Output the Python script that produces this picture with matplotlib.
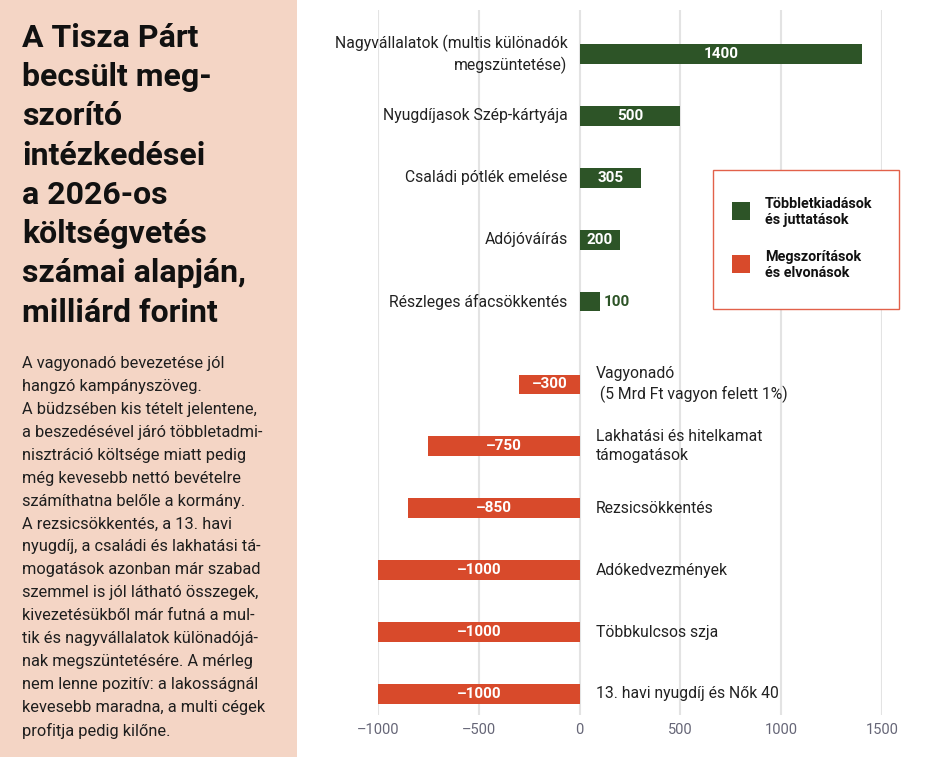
import numpy as np
import matplotlib.pyplot as plt
from matplotlib.patches import Rectangle

plt.rcParams['font.family'] = ['Roboto', 'DejaVu Sans']

# data
pos_labels = ['Nagyvállalatok (multis különadók\nmegszüntetése)',
              'Nyugdíjasok Szép-kártyája',
              'Családi pótlék emelése',
              'Adójóváírás',
              'Részleges áfacsökkentés']
pos_values = [1400, 500, 305, 200, 100]

neg_labels = ['Vagyonadó\n (5 Mrd Ft vagyon felett 1%)',
              'Lakhatási és hitelkamat\ntámogatások',
              'Rezsicsökkentés',
              'Adókedvezmények',
              'Többkulcsos szja',
              '13. havi nyugdíj és Nők 40']
neg_values = [-300, -750, -850, -1000, -1000, -1000]

xticks = [-1000, -500, 0, 500, 1000, 1500]

title = ('A Tisza Párt\nbecsült meg-\nszorító\nintézkedései\na 2026-os\n'
         'költségvetés\nszámai alapján,\nmilliárd forint')
body = ('A vagyonadó bevezetése jól\nhangzó kampányszöveg.\n'
        'A büdzsében kis tételt jelentene,\na beszedésével járó többletadmi-\n'
        'nisztráció költsége miatt pedig\nmég kevesebb nettó bevételre\n'
        'számíthatna belőle a kormány.\nA rezsicsökkentés, a 13. havi\n'
        'nyugdíj, a családi és lakhatási tá-\nmogatások azonban már szabad\n'
        'szemmel is jól látható összegek,\nkivezetésükből már futná a mul-\n'
        'tik és nagyvállalatok különadójá-\nnak megszüntetésére. A mérleg\n'
        'nem lenne pozitív: a lakosságnál\nkevesebb maradna, a multi cégek\n'
        'profitja pedig kilőne.')

green = '#2d5427'
red = '#d84a2b'
panel = '#f4d5c5'

def fmt(v):
    return str(v).replace('-', '\u2013')

fig = plt.figure(figsize=(9.46, 7.57), dpi=100)
fig.patches.append(Rectangle((0, 0), 297 / 946, 1, transform=fig.transFigure,
                             facecolor=panel, edgecolor='none', zorder=0))

fig.text(22 / 946, 1 - 23 / 757, title, fontsize=23, fontweight='bold',
         va='top', ha='left', linespacing=1.385, color='#111111')
fig.text(22 / 946, 1 - 356 / 757, body, fontsize=11.8, va='top', ha='left',
         linespacing=1.66, color='#1e1e1e')

ax = fig.add_axes([378 / 946, 1 - 715 / 757, 504 / 946, 705 / 757])

y_pos = np.arange(len(pos_values))
y_neg = len(pos_values) - 1 + 1.34 + np.arange(len(neg_values))

ax.barh(y_pos, pos_values, height=0.32, color=green, zorder=2)
ax.barh(y_neg, neg_values, height=0.32, color=red, zorder=2)

for y, v, lab in zip(y_pos, pos_values, pos_labels):
    ax.text(-12 / 0.2016, y, lab, ha='right', va='center', fontsize=11.3,
            color='#222222', multialignment='right', linespacing=1.35)
    if v >= 150:
        ax.text(v / 2, y, fmt(v), ha='center', va='center', fontsize=11,
                fontweight='bold', color='white', zorder=3)
    else:
        ax.text(v + 20, y, fmt(v), ha='left', va='center', fontsize=11,
                fontweight='bold', color=green, zorder=3)

for y, v, lab in zip(y_neg, neg_values, neg_labels):
    ax.text(16 / 0.2016, y, lab, ha='left', va='center', fontsize=11.3,
            color='#222222', multialignment='left', linespacing=1.35)
    ax.text(v / 2, y, fmt(v), ha='center', va='center', fontsize=11,
            fontweight='bold', color='white', zorder=3)

ax.set_xlim(-1000, 1500)
ax.set_ylim(len(pos_values) - 1 + 1.34 + len(neg_values) - 1 + 0.34, -0.71)
ax.set_xticks(xticks)
ax.set_xticklabels([fmt(t) for t in xticks], fontsize=10.5, color='#666677')
ax.set_yticks([])
ax.tick_params(axis='x', length=0, pad=6)
ax.grid(axis='x', color='#e3e3e3', linewidth=1.5, zorder=0)
ax.set_axisbelow(True)
for s in ax.spines.values():
    s.set_visible(False)
ax.patch.set_alpha(0)

# legend box
fig.patches.append(Rectangle((713 / 946, 1 - 309 / 757), 186 / 946, 139 / 757,
                             transform=fig.transFigure, facecolor='white',
                             edgecolor='#e2614a', linewidth=1.0, zorder=5))
for yc, col, txt in [(211, green, 'Többletkiadások\nés juttatások'),
                     (264, red, 'Megszorítások\nés elvonások')]:
    fig.patches.append(Rectangle((732 / 946, 1 - (yc + 9) / 757), 18 / 946, 18 / 757,
                                 transform=fig.transFigure, facecolor=col,
                                 edgecolor='none', zorder=6))
    fig.text(765 / 946, 1 - (yc + 1) / 757, txt, fontsize=10.4, fontweight='bold',
             va='center', ha='left', linespacing=1.1, color='#111111', zorder=7)

fig.savefig('out.png', dpi=100)
